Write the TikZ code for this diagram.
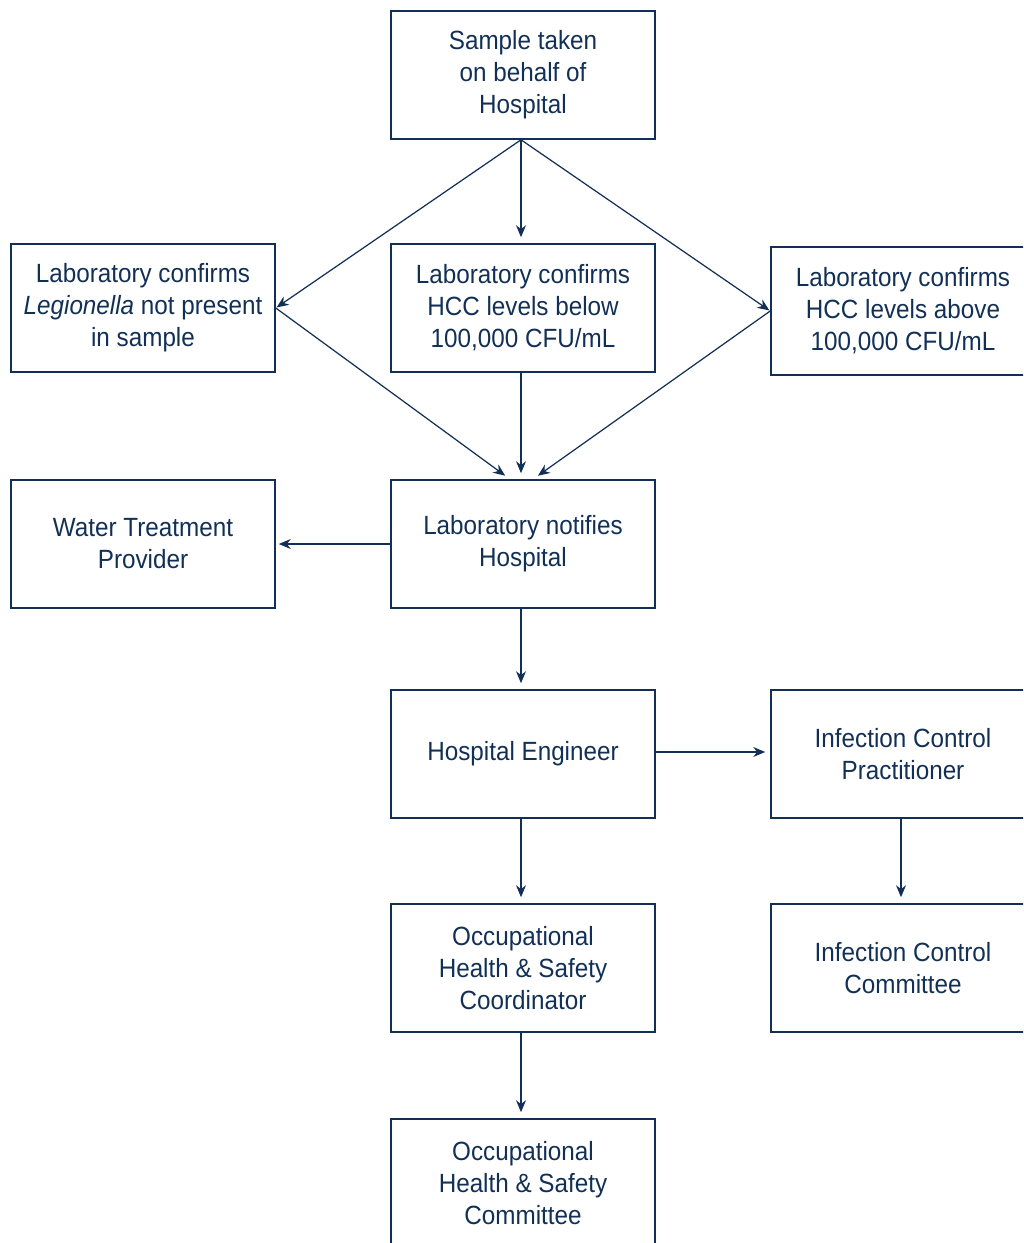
\documentclass[tikz,border=0pt]{standalone}
\usepackage{fontspec}
\setmainfont{Liberation Sans}[FakeStretch=0.92]
\usepackage{xcolor}
\usetikzlibrary{positioning,arrows.meta}
\definecolor{navy}{RGB}{18,48,86}

\begin{document}
\begin{tikzpicture}[
    -{Stealth[length=2.4mm,width=2mm]},
    line width=0.7pt,
    draw=navy,
    shorten >=0.12cm
]

\tikzstyle{box}=[
    rectangle,
    draw=navy,
    line width=0.9pt,
    minimum width=5.28cm,
    minimum height=2.56cm,
    align=center,
    text=navy,
    font=\fontsize{15}{18.2}\selectfont
]

\clip (0,0) rectangle (20.46,-24.86);

\node[box] (sample) at (10.46,-1.5) {Sample taken\\on behalf of\\Hospital};

\node[box] (absent) at (2.86,-6.16) {Laboratory confirms\\\textit{Legionella} not present\\in sample};
\node[box] (below) at (10.46,-6.16) {Laboratory confirms\\HCC levels below\\100,000 CFU/mL};
\node[box] (above) at (18.06,-6.22) {Laboratory confirms\\HCC levels above\\100,000 CFU/mL};

\node[box] (water) at (2.86,-10.88) {Water Treatment\\Provider};
\node[box] (notify) at (10.46,-10.88) {Laboratory notifies\\Hospital};

\node[box] (engineer) at (10.46,-15.08) {Hospital Engineer};
\node[box] (icp) at (18.06,-15.08) {Infection Control\\Practitioner};

\node[box] (ohsc) at (10.46,-19.36) {Occupational\\Health \& Safety\\Coordinator};
\node[box] (icc) at (18.06,-19.36) {Infection Control\\Committee};

\node[box] (ohscom) at (10.46,-23.66) {Occupational\\Health \& Safety\\Committee};

% from the sample
\draw[shorten >=0.02cm] ([xshift=-0.04cm]sample.south) -- (absent.east);
\draw ([xshift=-0.04cm]sample.south) -- ([xshift=-0.04cm]below.north);
\draw[shorten >=0.02cm] ([xshift=-0.04cm]sample.south) -- (above.west);

% results to notification
\draw (absent.east) -- ([xshift=-0.26cm]notify.north);
\draw ([xshift=-0.04cm]below.south) -- ([xshift=-0.04cm]notify.north);
\draw (above.west) -- ([xshift=0.2cm]notify.north);

\draw[shorten >=0.06cm] (notify.west) -- (water.east);
\draw ([xshift=-0.04cm]notify.south) -- ([xshift=-0.04cm]engineer.north);

\draw[shorten >=0.1cm] ([yshift=0.04cm]engineer.east) -- ([yshift=0.04cm]icp.west);
\draw ([xshift=-0.04cm]engineer.south) -- ([xshift=-0.04cm]ohsc.north);
\draw ([xshift=-0.04cm]icp.south) -- ([xshift=-0.04cm]icc.north);
\draw ([xshift=-0.04cm]ohsc.south) -- ([xshift=-0.04cm]ohscom.north);

\end{tikzpicture}
\end{document}
